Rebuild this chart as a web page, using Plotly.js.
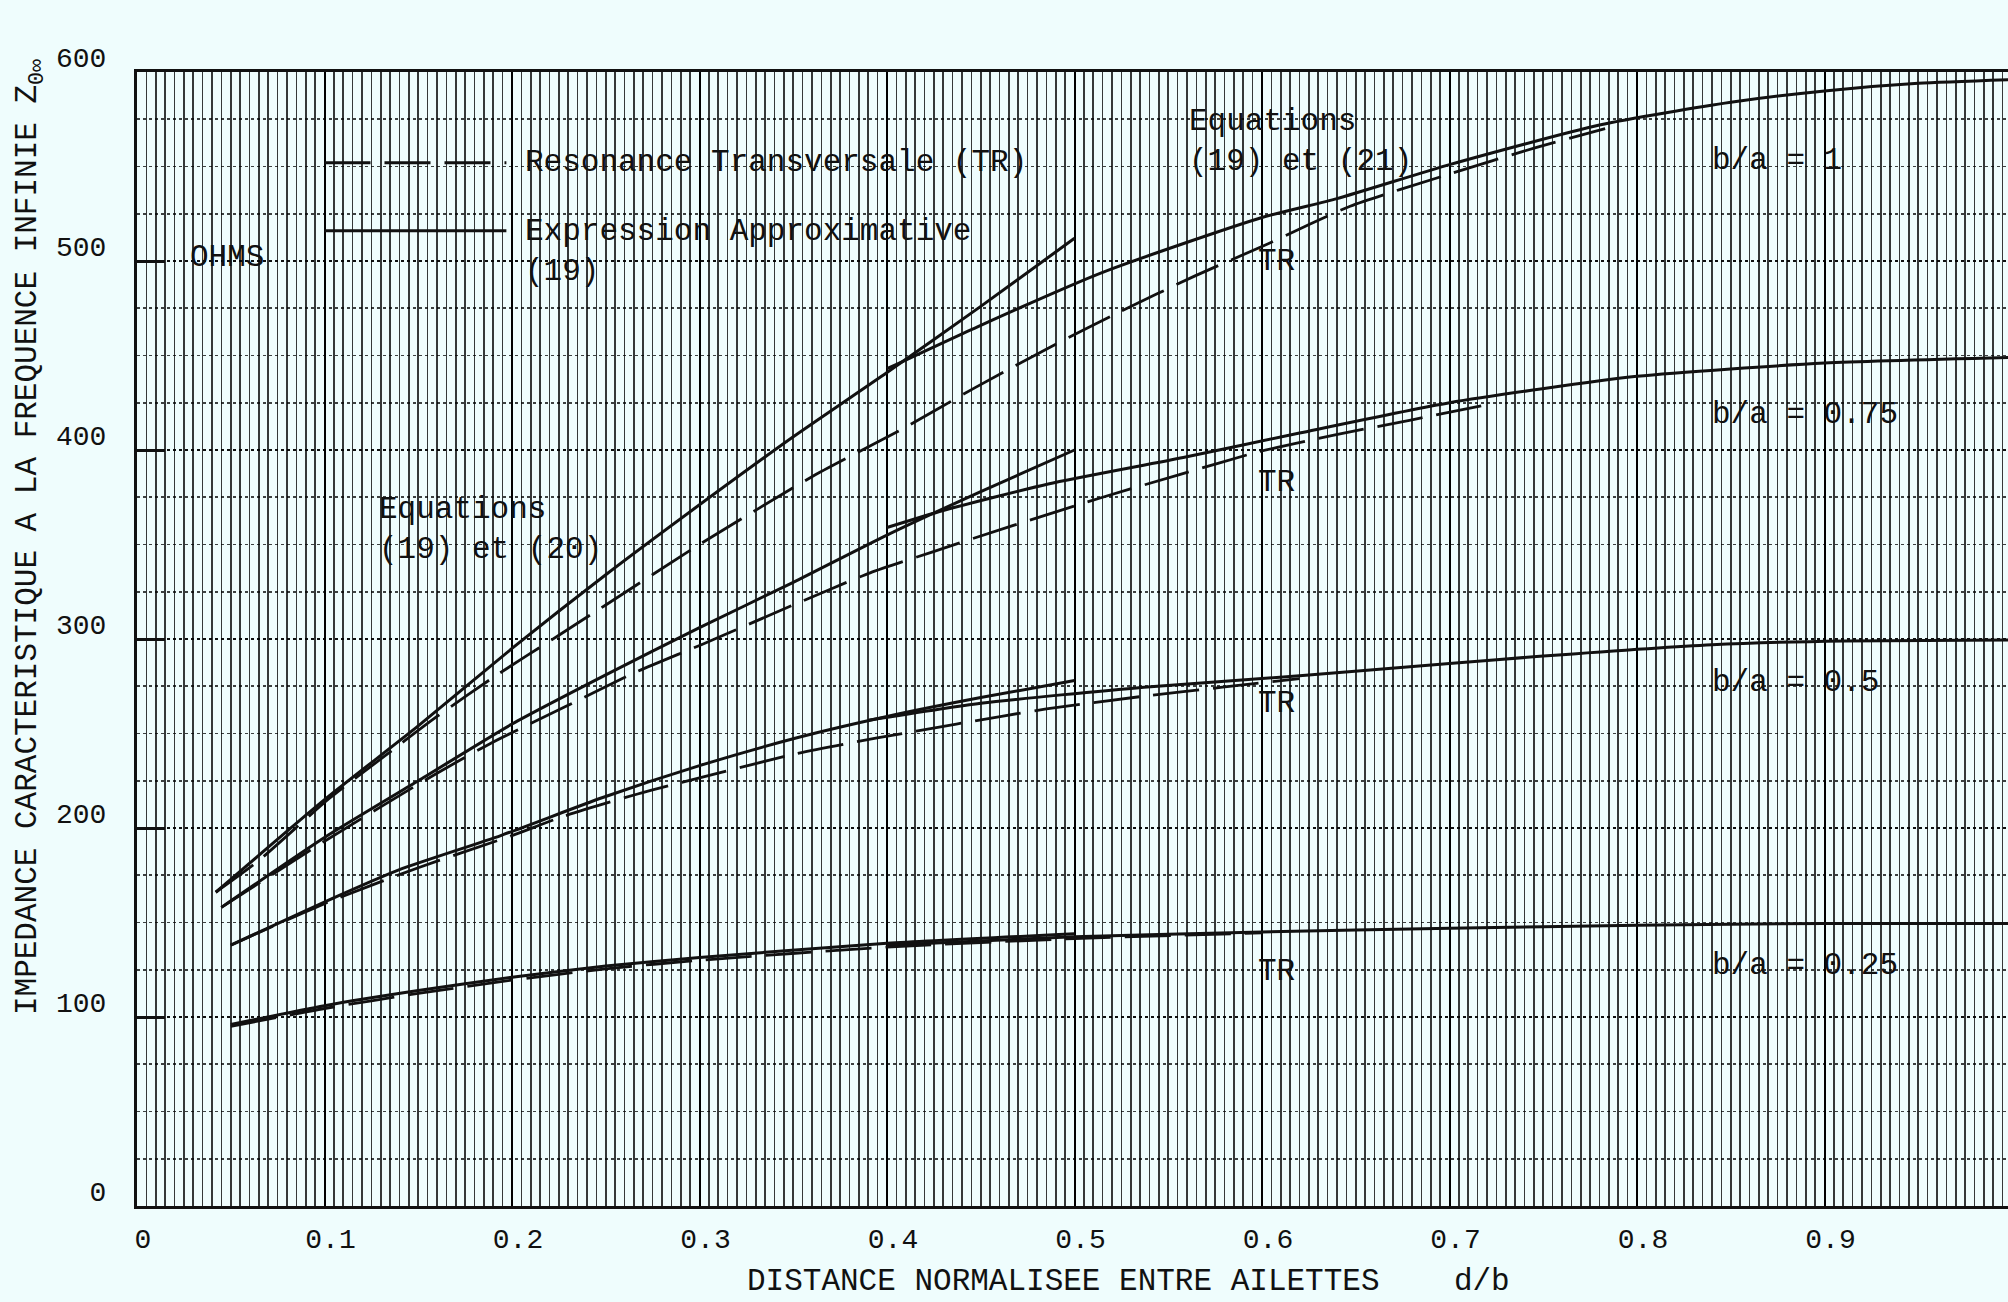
<!DOCTYPE html>
<html>
<head>
<meta charset="utf-8">
<script src="https://cdn.plot.ly/plotly-3.0.1.min.js"></script>
<style>
  html, body { margin: 0; padding: 0; overflow: hidden; background: #effdfd; }
  #chart { width: 2016px; height: 1302px; }
</style>
</head>
<body>
<div id="chart"></div>
<script>
// ---------------- DATA ----------------
// b/a = 1
const eq19_r1_x = [0.042, 0.1, 0.15, 0.2, 0.25, 0.3, 0.35, 0.4, 0.45, 0.5];
const eq19_r1_y = [166, 215, 254, 295, 334, 371, 407, 441, 476, 512];
const eq21_r1_x = [0.40, 0.45, 0.515, 0.6, 0.64, 0.7, 0.78, 0.85, 0.9, 0.95, 1.0];
const eq21_r1_y = [443, 466, 494, 523, 533, 551, 572, 584, 590, 594, 596];
const tr_r1_x = [0.042, 0.064, 0.103, 0.132, 0.16, 0.192, 0.225, 0.25, 0.3, 0.362, 0.408, 0.447, 0.49, 0.524, 0.564, 0.603, 0.647, 0.7, 0.746, 0.783];
const tr_r1_y = [166, 182, 216, 238, 259, 281, 302, 318, 350, 387, 411, 433, 456, 473, 492, 509, 529, 546, 560, 570];

// b/a = 0.75
const eq19_r075_x = [0.045, 0.1, 0.15, 0.2, 0.25, 0.3, 0.35, 0.4, 0.45, 0.5];
const eq19_r075_y = [158, 195, 225, 255, 281, 306, 330, 355, 378, 400];
const eq20_r075_x = [0.40, 0.43, 0.486, 0.558, 0.62, 0.7, 0.8, 0.9, 1.0];
const eq20_r075_y = [359, 368, 382, 396, 409, 425, 439, 446, 449];
const tr_r075_x = [0.045, 0.1, 0.16, 0.189, 0.228, 0.265, 0.301, 0.35, 0.391, 0.424, 0.467, 0.515, 0.556, 0.598, 0.639, 0.68, 0.72];
const tr_r075_y = [158, 193, 229, 245, 264, 282, 297, 318, 335, 346, 360, 375, 387, 399, 408, 416, 424];

// b/a = 0.5
const eq19_r05_x = [0.05, 0.107, 0.14, 0.194, 0.248, 0.3, 0.353, 0.4, 0.45, 0.5];
const eq19_r05_y = [138, 164, 178, 196, 216, 233, 248, 259, 269, 278];
const eq20_r05_x = [0.39, 0.45, 0.537, 0.62, 0.7, 0.75, 0.84, 0.91, 1.0];
const eq20_r05_y = [257, 266, 274.5, 280.5, 287, 291, 297, 299, 299.5];
const tr_r05_x = [0.05, 0.1, 0.15, 0.2, 0.227, 0.267, 0.31, 0.35, 0.394, 0.437, 0.485, 0.535, 0.579, 0.62];
const tr_r05_y = [138, 160, 179, 196, 206, 218, 229, 239, 247.5, 255, 263, 269.5, 274.5, 279];

// b/a = 0.25
const eq19_r025_x = [0.05, 0.1, 0.15, 0.2, 0.25, 0.3, 0.4, 0.5];
const eq19_r025_y = [96, 106, 114, 121, 127, 131.5, 139, 144];
const eq20_r025_x = [0.4, 0.5, 0.6, 0.7, 0.8, 0.9, 1.0];
const eq20_r025_y = [138, 142.5, 145, 147, 148.5, 149.5, 149.5];
const tr_r025_x = [0.05, 0.1, 0.15, 0.2, 0.25, 0.3, 0.4, 0.5, 0.6];
const tr_r025_y = [95, 104.5, 112.5, 119.5, 125.5, 130, 137, 141.5, 144.5];

// tick labels and texts
const xTickVals = [0, 0.1, 0.2, 0.3, 0.4, 0.5, 0.6, 0.7, 0.8, 0.9, 1.0];
const xTickText = ['0', '0.1', '0.2', '0.3', '0.4', '0.5', '0.6', '0.7', '0.8', '0.9', '1'];
const yTickVals = [0, 100, 200, 300, 400, 500, 600];
const yTickText = ['0', '100', '200', '300', '400', '500', '600'];
const ratioLabels = ['b/a = 1', 'b/a = 0.75', 'b/a = 0.5', 'b/a = 0.25'];
const trLabel = 'TR';
const legendTexts = ['Resonance Transversale (TR)', 'Expression Approximative<br>(19)'];
const eqLabels = ['Equations<br>(19) et (20)', 'Equations<br>(19) et (21)'];
const unitLabel = 'OHMS';
const xTitle = 'DISTANCE NORMALISEE ENTRE AILETTES\u00a0\u00a0\u00a0\u00a0d/b';
const yTitle = 'IMPEDANCE CARACTERISTIQUE A LA FREQUENCE INFINIE Z<sub>0\u221e</sub>';

// ---------------- STYLE ----------------
const INK = '#111111';
const BG = '#effdfd';
const FONT = 'Courier New, Liberation Mono, monospace';
const TRDASH = '46px,14px';

function solid(x, y) {
  return { x: x, y: y, type: 'scatter', mode: 'lines', showlegend: false, hoverinfo: 'skip',
           line: { color: INK, width: 3, shape: 'spline', smoothing: 0.6 } };
}
function dashed(x, y) {
  return { x: x, y: y, type: 'scatter', mode: 'lines', showlegend: false, hoverinfo: 'skip',
           line: { color: INK, width: 2.8, dash: TRDASH, shape: 'spline', smoothing: 0.6 } };
}

const traces = [
  solid(eq19_r1_x, eq19_r1_y), solid(eq21_r1_x, eq21_r1_y), dashed(tr_r1_x, tr_r1_y),
  solid(eq19_r075_x, eq19_r075_y), solid(eq20_r075_x, eq20_r075_y), dashed(tr_r075_x, tr_r075_y),
  solid(eq19_r05_x, eq19_r05_y), solid(eq20_r05_x, eq20_r05_y), dashed(tr_r05_x, tr_r05_y),
  solid(eq19_r025_x, eq19_r025_y), solid(eq20_r025_x, eq20_r025_y), dashed(tr_r025_x, tr_r025_y)
];

function txt(text, x, y, opts) {
  return Object.assign({ text: text, x: x, y: y, xref: 'x', yref: 'y', showarrow: false,
    xanchor: 'left', yanchor: 'middle', align: 'left',
    font: { family: FONT, size: 31, color: INK } }, opts || {});
}

const annotations = [
  txt(ratioLabels[0], 0.839, 553),
  txt(ratioLabels[1], 0.839, 419),
  txt(ratioLabels[2], 0.839, 277),
  txt(ratioLabels[3], 0.839, 127),
  txt(trLabel, 0.597, 500),
  txt(trLabel, 0.597, 383),
  txt(trLabel, 0.597, 266),
  txt(trLabel, 0.597, 124),
  txt(legendTexts[0], 0.206, 552),
  txt(legendTexts[1], 0.206, 505),
  txt(eqLabels[0], 0.128, 358),
  txt(eqLabels[1], 0.560, 563),
  txt(unitLabel, 0.027, 502),
  { text: xTitle, xref: 'x', yref: 'paper', x: 0.324, y: -0.067, xanchor: 'left', yanchor: 'middle',
    showarrow: false, font: { family: FONT, size: 31, color: INK } },
  { text: yTitle, xref: 'paper', yref: 'paper', x: -0.057, y: 0.59, xanchor: 'center', yanchor: 'middle',
    textangle: -90, showarrow: false, font: { family: FONT, size: 31, color: INK } }
];

const shapes = [
  // legend samples
  { type: 'line', xref: 'x', yref: 'y', x0: 0.1, x1: 0.197, y0: 552, y1: 552,
    line: { color: INK, width: 3, dash: '46px,14px' } },
  { type: 'line', xref: 'x', yref: 'y', x0: 0.1, x1: 0.197, y0: 516, y1: 516,
    line: { color: INK, width: 3 } }
];

const layout = {
  width: 2016, height: 1302,
  margin: { l: 137, r: 4, t: 72, b: 96 },
  paper_bgcolor: BG, plot_bgcolor: BG,
  font: { family: FONT, size: 28, color: INK },
  showlegend: false,
  xaxis: {
    range: [0, 1.0], tickvals: xTickVals, ticktext: xTickText,
    showgrid: true, gridcolor: '#000000', gridwidth: 2,
    minor: { dtick: 0.005, tick0: 0, showgrid: true, gridcolor: 'rgba(0,0,0,0.78)', gridwidth: 1.6 },
    showline: true, linecolor: INK, linewidth: 3, mirror: true,
    ticks: '', zeroline: false, ticklabelstandoff: 5, ticklabelshift: 6,
    tickfont: { family: FONT, size: 28, color: INK }
  },
  yaxis: {
    range: [0, 600], tickvals: yTickVals, ticktext: yTickText,
    showgrid: true, gridcolor: 'rgba(0,0,0,0.75)', gridwidth: 1.6, griddash: 'dot',
    minor: { dtick: 25, tick0: 0, showgrid: true, gridcolor: 'rgba(0,0,0,0.75)', gridwidth: 1.6, griddash: 'dot' },
    showline: true, linecolor: INK, linewidth: 3, mirror: false,
    ticks: 'inside', ticklen: 28, tickwidth: 3, tickcolor: INK,
    zeroline: false, ticklabelstandoff: 22, ticklabelshift: -15,
    tickfont: { family: FONT, size: 28, color: INK }
  },
  annotations: annotations,
  shapes: shapes
};

Plotly.newPlot('chart', traces, layout, { staticPlot: true, displayModeBar: false });
</script>
</body>
</html>
